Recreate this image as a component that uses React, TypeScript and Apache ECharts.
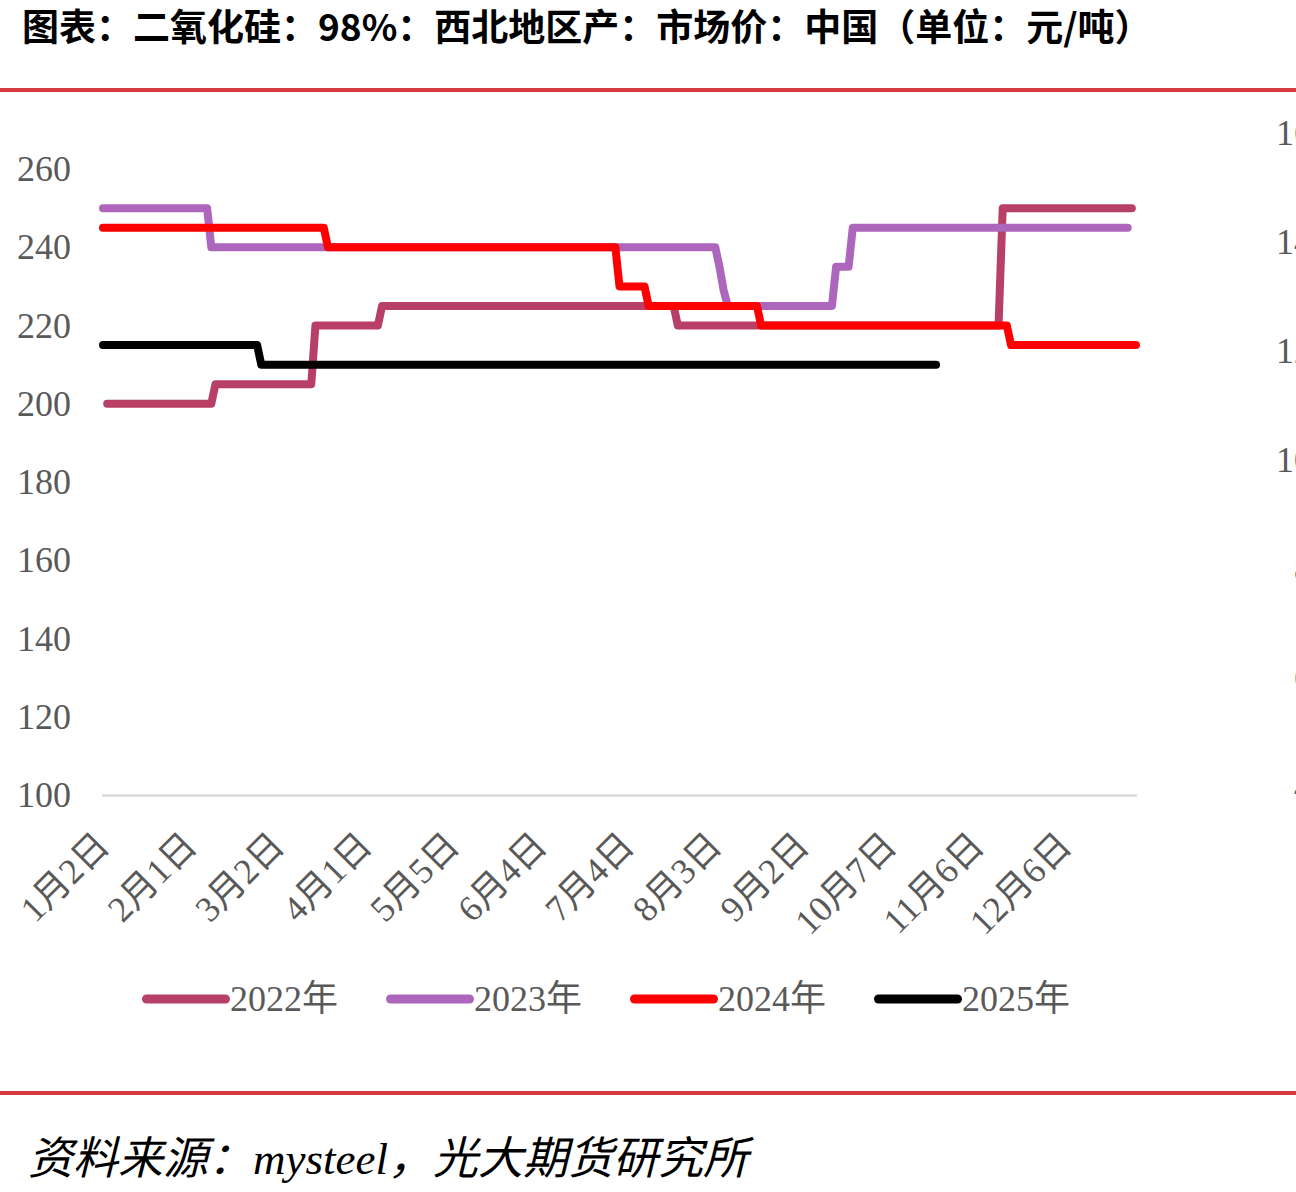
import React, { useEffect, useRef } from "react";
import * as echarts from "echarts";

const titleText = "图表：二氧化硅：98%：西北地区产：市场价：中国（单位：元/吨）";
const sourceText = "资料来源：mysteel，光大期货研究所";

const tickLabels = ["1月2日", "2月1日", "3月2日", "4月1日", "5月5日", "6月4日", "7月4日", "8月3日", "9月2日", "10月7日", "11月6日", "12月6日"];
const tickStep = 21;
const dayCount = 248;

const leftTicks = { min: 100, max: 260, interval: 20 };
const rightTicks = { min: 4, max: 16, interval: 2 };

const seriesNames = ["2022年", "2023年", "2024年", "2025年"];
const seriesColors = ["#B83F66", "#AC67BD", "#FF0000", "#000000"];

// [trading-day index, price]
const y2022: [number, number][] = [
  [1, 200], [26, 200], [27, 205], [50, 205], [51, 220], [66, 220], [67, 225],
  [137, 225], [138, 220], [215, 220], [216, 250], [247, 250],
];
const y2023: [number, number][] = [
  [0, 250], [25, 250], [26, 240], [147, 240], [148, 235], [149, 229], [150, 225],
  [175, 225], [176, 235], [179, 235], [180, 245], [246, 245],
];
const y2024: [number, number][] = [
  [0, 245], [53, 245], [54, 240], [123, 240], [124, 230], [130, 230], [131, 225],
  [157, 225], [158, 220], [217, 220], [218, 215], [248, 215],
];
const y2025: [number, number][] = [
  [0, 215], [37, 215], [38, 210], [200, 210],
];
const seriesData = [y2022, y2023, y2024, y2025];

const serif = "'Liberation Serif', 'Noto Sans CJK SC', serif";
const gray = "#595959";

export default function App() {
  const ref = useRef<HTMLDivElement>(null);
  useEffect(() => {
    if (!ref.current) return;
    const chart = echarts.init(ref.current, undefined, { renderer: "svg" });
    const option: any = {
      animation: false,
      backgroundColor: "#ffffff",
      grid: [
        { left: 103, right: 160, top: 169, bottom: 397, outerBoundsMode: "none", containLabel: false },
        { left: 103, right: 160, top: 133, bottom: 405, outerBoundsMode: "none", containLabel: false },
      ],
      xAxis: [
        {
          type: "value",
          gridIndex: 0,
          min: 0,
          max: dayCount,
          interval: tickStep,
          axisLine: { show: true, lineStyle: { color: "#d9d9d9", width: 2.5 } },
          axisTick: { show: false },
          splitLine: { show: false },
          axisLabel: {
            rotate: 45,
            margin: 44,
            color: gray,
            fontSize: 36,
            fontFamily: serif,
            showMaxLabel: false,
            formatter: (v: number) => {
              const i = Math.round(v / tickStep);
              return Math.abs(v - i * tickStep) < 1e-6 && i < tickLabels.length ? tickLabels[i] : "";
            },
          },
        },
        { type: "value", gridIndex: 1, show: false, min: 0, max: dayCount },
      ],
      yAxis: [
        {
          type: "value",
          gridIndex: 0,
          min: leftTicks.min,
          max: leftTicks.max,
          interval: leftTicks.interval,
          axisLine: { show: false },
          axisTick: { show: false },
          splitLine: { show: false },
          axisLabel: { color: gray, fontSize: 36, fontFamily: serif, margin: 32 },
        },
        {
          type: "value",
          gridIndex: 1,
          position: "right",
          min: rightTicks.min,
          max: rightTicks.max,
          interval: rightTicks.interval,
          axisLine: { show: false },
          axisTick: { show: false },
          splitLine: { show: false },
          axisLabel: { color: gray, fontSize: 36, fontFamily: serif, margin: 176, align: "right" },
        },
      ],
      legend: {
        top: 976,
        left: 137,
        itemWidth: 88,
        itemHeight: 9,
        itemGap: 48,
        icon: "path://M4.5,0 H83.5 A4.5,4.5 0 0 1 83.5,9 H4.5 A4.5,4.5 0 0 1 4.5,0 Z",
        textStyle: { color: gray, fontSize: 36, fontFamily: serif, padding: [0, 0, 0, -5] },
        data: seriesNames,
      },
      series: seriesNames.map((name, i) => ({
        name,
        type: "line",
        xAxisIndex: 0,
        yAxisIndex: 0,
        data: seriesData[i],
        showSymbol: false,
        symbol: "none",
        color: seriesColors[i],
        lineStyle: { width: 8, color: seriesColors[i], cap: "round", join: "round" },
      })),
      graphic: [
        {
          type: "text",
          left: 22,
          top: 6,
          style: {
            text: titleText,
            fill: "#000000",
            font: "bold 37px 'Noto Sans CJK SC', sans-serif",
          },
        },
        { type: "rect", shape: { x: 0, y: 88, width: 1296, height: 4 }, style: { fill: "#D63A40" } },
        { type: "rect", shape: { x: 0, y: 1091, width: 1296, height: 4 }, style: { fill: "#D63A40" } },
        {
          type: "text",
          left: 28,
          top: 1136,
          style: {
            text: sourceText,
            fill: "#000000",
            font: "italic 45px 'Liberation Serif', 'Noto Sans CJK SC', serif",
          },
        },
      ],
    };
    chart.setOption(option);
    return () => chart.dispose();
  }, []);
  return (
    <div
      ref={ref}
      style={{ position: "absolute", left: 0, top: 0, width: 1296, height: 1192 }}
    />
  );
}
